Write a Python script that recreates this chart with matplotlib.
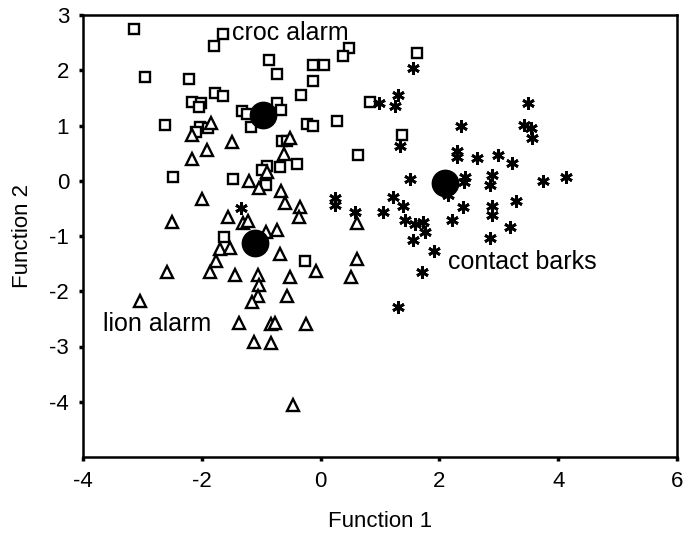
import matplotlib
matplotlib.use("Agg")
import matplotlib.pyplot as plt

plt.rcParams['font.family'] = ['Liberation Sans', 'DejaVu Sans']
plt.rcParams['axes.unicode_minus'] = False

# croc alarm (squares)
croc_x = [-3.14, -1.65, -1.79, -0.87, -0.74, -2.96, -2.22, -1.77, -1.65, -2.17,
          -2.01, -2.05, -0.73, -1.33, -1.24, -0.67, -1.18, -2.62, -2.03, -1.90,
          -2.09, -0.65, -0.57, -2.48, -1.48, -0.91, -0.99, -0.68, -0.92, -0.39,
          0.47, 0.38, 1.62, -0.12, 0.05, -0.13, -0.33, 0.83, -0.23, -0.12,
          0.27, 1.37, 0.63, -1.62, -0.26]
croc_y = [2.74, 2.66, 2.44, 2.19, 1.94, 1.88, 1.85, 1.58, 1.53, 1.43,
          1.40, 1.34, 1.41, 1.26, 1.20, 1.28, 0.98, 1.01, 0.98, 0.96,
          0.89, 0.72, 0.72, 0.07, 0.04, 0.27, 0.20, 0.25, -0.07, 0.30,
          2.41, 2.25, 2.32, 2.10, 2.10, 1.80, 1.55, 1.42, 1.02, 0.99,
          1.09, 0.83, 0.47, -1.02, -1.45]

# lion alarm (triangles)
lion_x = [-1.85, -2.17, -1.50, -1.92, -2.17, -0.62, -0.52, -1.20, -1.03, -0.91,
          -0.67, -1.99, -0.60, -0.34, -0.36, -2.51, -1.56, -1.31, -1.22, -0.92,
          -0.74, -1.69, -1.53, -1.76, -1.87, -2.59, -1.44, -1.06, -1.03, -0.68,
          -1.06, -1.15, -0.52, -0.56, -3.04, -1.37, -0.83, -0.77, -1.12, -0.84,
          -0.24, -0.08, -0.46, 0.61, 0.61, 0.52]
lion_y = [1.04, 0.83, 0.70, 0.55, 0.40, 0.48, 0.78, 0.00, -0.14, 0.16,
          -0.19, -0.33, -0.41, -0.48, -0.66, -0.74, -0.66, -0.76, -0.72, -0.93,
          -0.89, -1.24, -1.22, -1.45, -1.65, -1.66, -1.71, -1.71, -1.88, -1.33,
          -2.09, -2.20, -1.74, -2.09, -2.17, -2.58, -2.59, -2.58, -2.91, -2.93,
          -2.60, -1.63, -4.06, -0.76, -1.42, -1.75]

# contact barks (asterisks)
bark_x = [1.56, 1.31, 1.25, 0.98, 1.34, 2.36, 2.29, 2.29, 2.63, 1.51,
          2.43, 2.41, 3.49, 3.42, 3.54, 3.56, 2.99, 3.23, 2.88, 2.85,
          3.74, 4.13, 2.15, 1.22, 1.38, 1.05, 2.39, 2.22, 2.89, 2.88,
          3.29, 1.42, 1.59, 1.72, 1.75, 3.19, 1.56, 2.85, 1.91, 1.71,
          1.30, 0.25, 0.25, 0.58, -1.34]
bark_y = [2.04, 1.55, 1.36, 1.41, 0.63, 1.00, 0.54, 0.43, 0.41, 0.03,
          0.07, -0.02, 1.41, 1.01, 0.96, 0.78, 0.47, 0.33, 0.10, -0.08,
          0.00, 0.07, -0.26, -0.29, -0.46, -0.57, -0.48, -0.71, -0.45, -0.62,
          -0.36, -0.71, -0.79, -0.74, -0.92, -0.83, -1.08, -1.03, -1.27, -1.65,
          -2.28, -0.32, -0.43, -0.57, -0.49]

# group centroids
cent_x = [-0.97, -1.10, 2.09]
cent_y = [1.19, -1.13, -0.04]

group_labels = ["croc alarm", "lion alarm", "contact barks"]
label_x = [-1.49, -3.67, 2.14]
label_y = [2.67, -2.59, -1.47]

xticks = [-4, -2, 0, 2, 4, 6]
yticks = [-4, -3, -2, -1, 0, 1, 2, 3]

fig = plt.figure(figsize=(6.85, 5.36), dpi=100)
ax = fig.add_axes([83/685, (536-457)/536, (677-83)/685, (457-15)/536])

ax.plot(croc_x, croc_y, linestyle='none', marker='s', markersize=7,
        markerfacecolor='white', markeredgecolor='black', markeredgewidth=1.7)
ax.plot(lion_x, lion_y, linestyle='none', marker='^', markersize=8,
        markerfacecolor='white', markeredgecolor='black', markeredgewidth=1.7)
ax.plot(bark_x, bark_y, linestyle='none', marker=(6, 2, 0), markersize=9,
        markeredgecolor='black', markeredgewidth=2.0)
ax.plot(cent_x, cent_y, linestyle='none', marker='o', markersize=19,
        color='black')

for t, x, y in zip(group_labels, label_x, label_y):
    ax.text(x, y, t, fontsize=18, va='center', ha='left')

ax.set_xlim(-4, 6)
ax.set_ylim(-5, 3)
ax.set_xticks(xticks)
ax.set_yticks(yticks)
ax.tick_params(direction='out', length=3, width=2.5, labelsize=16, pad=7)
for s in ax.spines.values():
    s.set_linewidth(1.8)
    s.set_color('black')

ax.set_xlabel("Function 1", fontsize=16, labelpad=14)
ax.set_ylabel("Function 2", fontsize=16, labelpad=12)

fig.savefig("out.png", dpi=100)
